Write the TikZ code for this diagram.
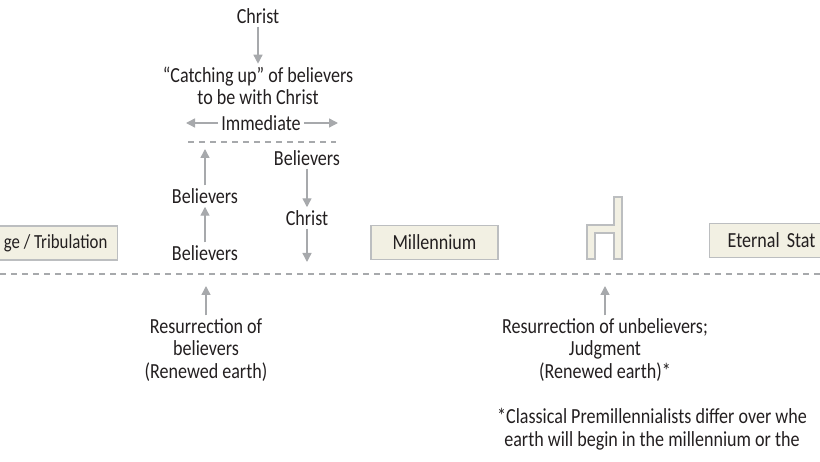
\documentclass[tikz,border=0pt]{standalone}
\usepackage{fontspec}
\setmainfont{Carlito}[FakeStretch=0.84]
\usetikzlibrary{positioning}
\usetikzlibrary{arrows.meta}
\definecolor{ink}{HTML}{231F20}
\definecolor{arrgray}{HTML}{A7A9AC}
\definecolor{boxfill}{HTML}{F2F0E3}
\definecolor{boxline}{HTML}{BCBEC0}

\begin{document}
\begin{tikzpicture}[x=1pt, y=-1pt,
    txt/.style={font=\fontsize{21.5}{22.5}\selectfont, text=ink, align=center, inner sep=3pt},
    arr/.style={draw=arrgray, line width=1.4pt, -{Triangle[length=9pt, width=9pt]}},
    dashline/.style={draw=arrgray, line width=1.3pt, dash pattern=on 6pt off 5pt},
    era/.style={txt, draw=boxline, fill=boxfill, line width=1.3pt, minimum height=34pt, inner xsep=12pt}]
    \useasboundingbox (0,0) rectangle (820,462);
    % rapture column
    \node[txt] (christT) at (258,16) {Christ};
    \node[txt] (catchup) at (258,86) {“Catching up” of believers\\to be with Christ};
    \node[txt] (immed) at (261,123) {Immediate};
    \coordinate (immL) at (186,123);
    \coordinate (immR) at (338,123);
    \draw[arr] (christT) -- (catchup);
    \draw[arr] (immed) -- (immL);       %left arrow
    \draw[arr] (immed) -- (immR);       %right arrow
    \coordinate (cloudL) at (188,142);
    \coordinate (cloudR) at (336,142);
    \draw[dashline] (cloudL) -- (cloudR);   %upper line
    % believers going up
    \node[txt] (believersU) at (205,196) {Believers};
    \node[txt] (believersB) at (205,253) {Believers};
    \coordinate (upTop) at (205,149);
    \draw[arr] (believersB) -- (believersU);
    \draw[arr] (believersU) -- (upTop);
    % coming down with Christ
    \node[txt] (believersR) at (307,158) {Believers};
    \node[txt] (christR) at (307,218) {Christ};
    \coordinate (downEnd) at (307,262);
    \draw[arr] (believersR) -- (christR);
    \draw[arr] (christR) -- (downEnd);
    % eras
    \node[era, anchor=east, inner xsep=10pt, font=\fontsize{20}{22}\selectfont] (trib) at (118,243) {ge / Tribulation};
    \node[era, minimum width=127pt] (mill) at (434.5,242.5) {Millennium};
    \node[era, anchor=west, inner xsep=18pt, text width=130pt, align=left] (eternal) at (709,240.5) {Eternal Stat};
    % throne
    \draw[draw=boxline, fill=boxfill, line width=1.3pt] (614,197) -- (622,197) -- (622,259) -- (614,259) -- (614,233)
        -- (595,233) -- (595,259) -- (587,259) -- (587,225) -- (614,225) -- cycle;
    % time line
    \coordinate (lineL) at (0,274);
    \coordinate (lineR) at (820,274);
    \draw[dashline] (lineL) -- (lineR);
    % resurrections
    \node[txt] (resL) at (206,350) {Resurrection of\\believers\\(Renewed earth)};
    \node[txt] (resR) at (605,350) {Resurrection of unbelievers;\\Judgment\\(Renewed earth)*};
    \coordinate (tipL) at (206,286);
    \coordinate (tipR) at (605,286);
    \draw[arr] (resL) -- (tipL);
    \draw[arr] (resR) -- (tipR);
    % note
    \node[txt, anchor=west, inner sep=0pt] (note) at (497,429) {*Classical Premillennialists differ over whe\\earth will begin in the millennium or the};
\end{tikzpicture}
\end{document}
